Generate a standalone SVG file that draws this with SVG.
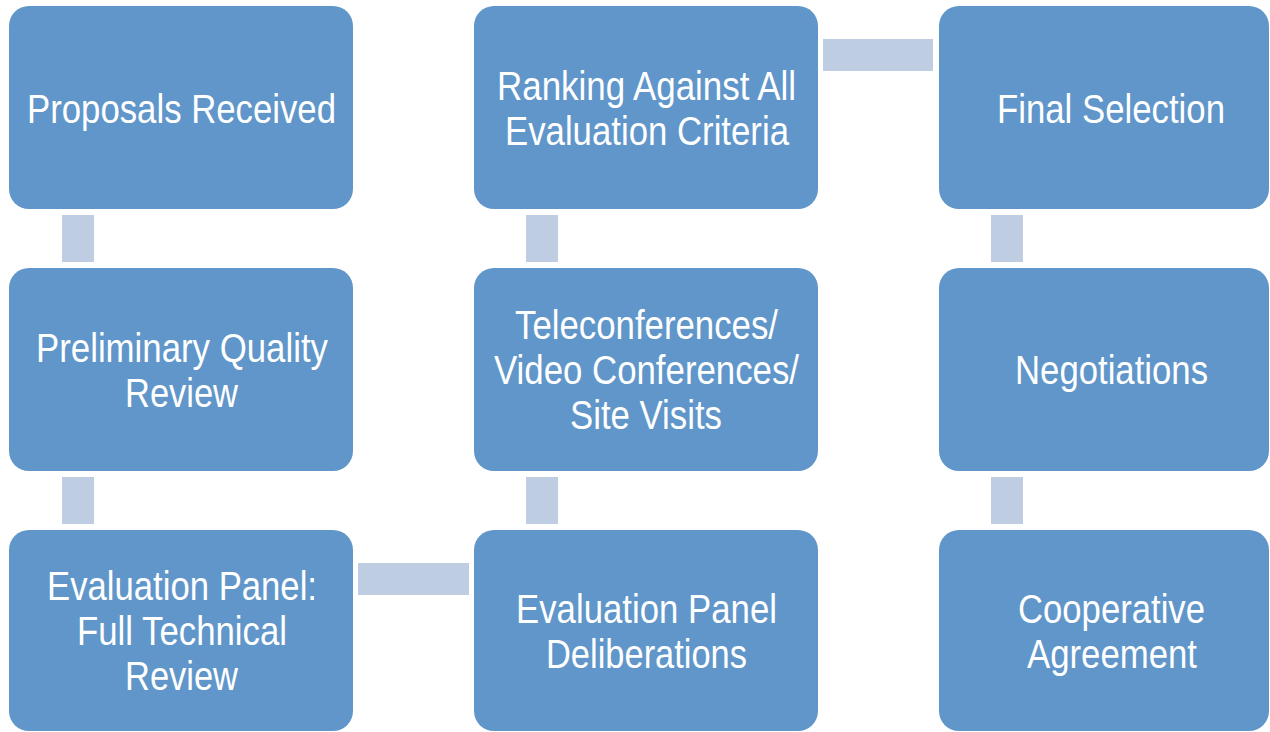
<svg xmlns="http://www.w3.org/2000/svg" width="1270" height="732" viewBox="0 0 1270 732">
<style>
.box{fill:#6096C9;}
.con{fill:#BFCDE3;}
text{fill:#FFFFFF;font-family:"Liberation Sans Narrow","Liberation Sans",Arial,sans-serif;font-size:41px;text-anchor:middle;}
</style>
<rect width="1270" height="732" fill="#FFFFFF"/>
<g id="connectors">
<rect class="con" x="62" y="215" width="32" height="47"/>
<rect class="con" x="62" y="477" width="32" height="47"/>
<rect class="con" x="358" y="563" width="111" height="32"/>
<rect class="con" x="526" y="477" width="32" height="47"/>
<rect class="con" x="526" y="215" width="32" height="47"/>
<rect class="con" x="823" y="39" width="110" height="32"/>
<rect class="con" x="991" y="215" width="32" height="47"/>
<rect class="con" x="991" y="477" width="32" height="47"/>
</g>
<g id="n1">
<rect class="box" x="9" y="6" width="344" height="203" rx="20"/>
<text x="181.5" y="123" textLength="309" lengthAdjust="spacingAndGlyphs">Proposals Received</text>
</g>
<g id="n2">
<rect class="box" x="9" y="268" width="344" height="203" rx="20"/>
<text x="182" y="361.5" textLength="292" lengthAdjust="spacingAndGlyphs">Preliminary Quality</text>
<text x="181.5" y="406.5" textLength="113" lengthAdjust="spacingAndGlyphs">Review</text>
</g>
<g id="n3">
<rect class="box" x="9" y="530" width="344" height="201" rx="20"/>
<text x="182" y="600" textLength="270" lengthAdjust="spacingAndGlyphs">Evaluation Panel:</text>
<text x="182" y="645" textLength="210" lengthAdjust="spacingAndGlyphs">Full Technical</text>
<text x="181.5" y="690" textLength="113" lengthAdjust="spacingAndGlyphs">Review</text>
</g>
<g id="n4">
<rect class="box" x="474" y="530" width="344" height="201" rx="20"/>
<text x="646.5" y="622.5" textLength="261" lengthAdjust="spacingAndGlyphs">Evaluation Panel</text>
<text x="646.5" y="667.5" textLength="201" lengthAdjust="spacingAndGlyphs">Deliberations</text>
</g>
<g id="n5">
<rect class="box" x="474" y="268" width="344" height="203" rx="20"/>
<text x="646.5" y="339" textLength="263" lengthAdjust="spacingAndGlyphs">Teleconferences/</text>
<text x="646.5" y="384" textLength="305" lengthAdjust="spacingAndGlyphs">Video Conferences/</text>
<text x="646" y="429" textLength="152" lengthAdjust="spacingAndGlyphs">Site Visits</text>
</g>
<g id="n6">
<rect class="box" x="474" y="6" width="344" height="203" rx="20"/>
<text x="646.5" y="99.5" textLength="299" lengthAdjust="spacingAndGlyphs">Ranking Against All</text>
<text x="647" y="144.5" textLength="284" lengthAdjust="spacingAndGlyphs">Evaluation Criteria</text>
</g>
<g id="n7">
<rect class="box" x="939" y="6" width="330" height="203" rx="20"/>
<text x="1111" y="123" textLength="228" lengthAdjust="spacingAndGlyphs">Final Selection</text>
</g>
<g id="n8">
<rect class="box" x="939" y="268" width="330" height="203" rx="20"/>
<text x="1111.5" y="384" textLength="193" lengthAdjust="spacingAndGlyphs">Negotiations</text>
</g>
<g id="n9">
<rect class="box" x="939" y="530" width="330" height="201" rx="20"/>
<text x="1111.5" y="622.5" textLength="187" lengthAdjust="spacingAndGlyphs">Cooperative</text>
<text x="1112" y="667.5" textLength="170" lengthAdjust="spacingAndGlyphs">Agreement</text>
</g>
</svg>
